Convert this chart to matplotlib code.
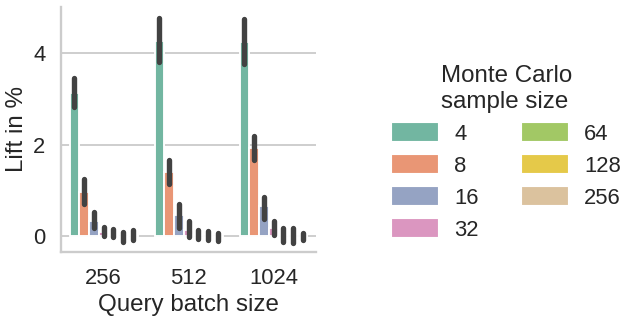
import numpy as np
import matplotlib
matplotlib.use("Agg")
import matplotlib.pyplot as plt
import matplotlib.patches as mpatches
import seaborn as sns

batch_sizes = ["256", "512", "1024"]
mc_sizes = ["4", "8", "16", "32", "64", "128", "256"]

# mean lift per Monte Carlo sample size, one list per query batch size
mean_256 = [3.13, 0.96, 0.33, 0.09, 0.03, -0.03, 0.02]
mean_512 = [4.26, 1.40, 0.46, 0.13, 0.03, 0.01, -0.02]
mean_1024 = [4.25, 1.92, 0.65, 0.17, 0.02, 0.00, -0.01]

# confidence interval ends
lo_256 = [2.83, 0.70, 0.17, 0.00, -0.03, -0.14, -0.09]
hi_256 = [3.46, 1.24, 0.52, 0.20, 0.15, 0.08, 0.13]
lo_512 = [3.80, 1.13, 0.17, -0.03, -0.07, -0.09, -0.12]
hi_512 = [4.77, 1.67, 0.69, 0.33, 0.14, 0.10, 0.07]
lo_1024 = [3.77, 1.67, 0.38, 0.02, -0.14, -0.16, -0.09]
hi_1024 = [4.75, 2.18, 0.86, 0.33, 0.18, 0.17, 0.07]

sns.set_theme(style="whitegrid", context="talk")
plt.rcParams["font.family"] = ["Liberation Sans", "DejaVu Sans"]
plt.rcParams.update({
    "xtick.labelsize": 17.6,
    "ytick.labelsize": 17.6,
    "axes.labelsize": 19.3,
    "legend.fontsize": 17.6,
    "legend.title_fontsize": 19.3,
})

means = np.array([mean_256, mean_512, mean_1024])
lows = np.array([lo_256, lo_512, lo_1024])
highs = np.array([hi_256, hi_512, hi_1024])

colors = sns.color_palette("Set2", len(mc_sizes), desat=0.75)

dpi = 90
fig = plt.figure(figsize=(633 / dpi, 322 / dpi), dpi=dpi)
ax = fig.add_axes([61 / 633, 1 - 252 / 322, 255 / 633, 245.5 / 322])

x = np.arange(len(batch_sizes))
n = len(mc_sizes)
w = 0.8 / n
for j in range(n):
    xs = x - 0.4 + w * (j + 0.5)
    ax.bar(xs, means[:, j], width=w, color=colors[j], edgecolor="white",
           linewidth=1.5, zorder=2)
    ax.vlines(xs, lows[:, j], highs[:, j], color=".26", linewidth=4.3,
              capstyle="round", zorder=3)

ax.set_xticks(x)
ax.set_xticklabels(batch_sizes)
ax.set_xlim(-0.5, 2.5)
ax.set_ylim(-0.35, 5.02)
ax.set_yticks([0, 2, 4])
ax.grid(axis="x", visible=False)
ax.set_axisbelow(True)
ax.set_xlabel("Query batch size")
ax.set_ylabel("Lift in %")
sns.despine(ax=ax)

handles = [mpatches.Patch(color=colors[j], label=mc_sizes[j]) for j in range(n)]
fig.legend(handles=handles, title="Monte Carlo\nsample size", ncol=2,
           frameon=False, loc="center left", bbox_to_anchor=(0.589, 0.525))

fig.savefig("out.png", dpi=dpi)
